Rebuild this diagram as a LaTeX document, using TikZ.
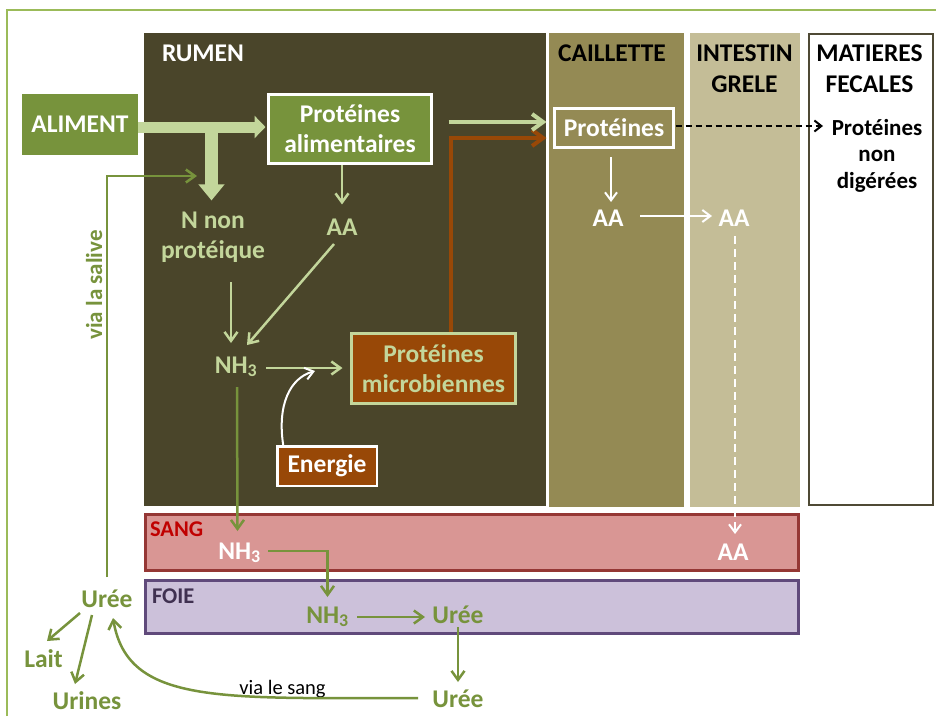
\documentclass[tikz,border=0pt]{standalone}
\usepackage{fontspec}
\setmainfont{Carlito}
\usetikzlibrary{arrows.meta,calc}
\definecolor{rumenc}{HTML}{4A452A}
\definecolor{caillc}{HTML}{948A54}
\definecolor{intc}{HTML}{C4BD97}
\definecolor{lgreen}{HTML}{C3D69B}
\definecolor{dgreen}{HTML}{77933C}
\definecolor{framec}{HTML}{9BBB59}
\definecolor{brownc}{HTML}{984807}
\definecolor{sangfill}{HTML}{D99694}
\definecolor{sangdraw}{HTML}{953735}
\definecolor{sangtext}{HTML}{C00000}
\definecolor{foiefill}{HTML}{CCC1DA}
\definecolor{foiedraw}{HTML}{604A7B}
\definecolor{foietext}{HTML}{403151}
\definecolor{fecdraw}{HTML}{4F4A35}
\begin{document}
\begin{tikzpicture}[x=1pt,y=-1pt,
  every node/.style={inner sep=0pt, outer sep=0pt},
  lbl/.style={font=\fontsize{25.5}{30}\selectfont\bfseries, align=center},
  barb/.style={-{Straight Barb[length=9pt,width=13pt]}},
  thinlg/.style={draw=lgreen, line width=2.5pt, barb},
  thicklg/.style={draw=lgreen, line width=4pt, -{Straight Barb[length=11pt,width=16pt]}},
  dg/.style={draw=dgreen, line width=2.5pt, barb},
  wh/.style={draw=white, line width=2pt, -{Straight Barb[length=8pt,width=12pt]}},
  brownarrow/.style={draw=brownc, line width=4pt, -{Straight Barb[length=11pt,width=16pt]}},
  blackdash/.style={draw=black, line width=2pt, dash pattern=on 6pt off 4pt, -{Straight Barb[length=7pt,width=11pt]}},
  bigarrow/.style={draw=lgreen, line width=11pt, -{Triangle[length=11pt,width=22pt]}},
  bigarrowv/.style={draw=lgreen, line width=13pt, -{Triangle[length=16pt,width=25pt]}},
]
\useasboundingbox (0,0) rectangle (936,716);
\fill[white] (0,0) rectangle (936,716);

% outer frame
\draw[framec, line width=1.5pt] (7,716) -- (7,10) -- (936,10);

% compartments
\fill[rumenc] (144,33) rectangle (546,506);
\fill[caillc] (549,33) rectangle (684,507);
\fill[intc] (690,33) rectangle (800,507);
\draw[fecdraw, line width=2.5pt, fill=white] (809,34) rectangle (933,505);
\draw[sangdraw, fill=sangfill, line width=2.5pt] (145.5,514.5) rectangle (798.5,570.5);
\draw[foiedraw, fill=foiefill, line width=2.5pt] (145.5,580.5) rectangle (798.5,633.5);

% compartment titles (multi-line nodes sit on their last baseline)
\node[lbl, text=white, anchor=base west] (rumen) at (162,61) {RUMEN};
\node[lbl, anchor=base] (caill) at (612,61) {CAILLETTE};
\node[lbl, font=\fontsize{25.5}{31}\selectfont\bfseries, anchor=base] (intest) at (744.5,92) {INTESTIN\\GRELE};
\node[lbl, font=\fontsize{25.5}{31}\selectfont\bfseries, anchor=base] (fec) at (869.5,92) {MATIERES\\FECALES};
\node[font=\fontsize{22.5}{25}\selectfont\bfseries, text=sangtext, anchor=base west] (sang) at (150,536) {SANG};
\node[font=\fontsize{22.5}{25}\selectfont\bfseries, text=foietext, anchor=base west] (foie) at (152,603) {FOIE};

% boxes
\node[lbl, fill=dgreen, text=white, minimum width=116pt, minimum height=61pt] (alim) at (80,124.5) {ALIMENT};
\node[lbl, fill=dgreen, draw=white, line width=3pt, text=white, minimum width=163pt, minimum height=69pt] (pa) at (350,129) {Protéines\\alimentaires};
\node[lbl, fill=brownc, draw=lgreen, line width=3pt, text=lgreen, minimum width=164pt, minimum height=70pt] (pm) at (433.5,368.5) {Protéines\\microbiennes};
\node[lbl, fill=brownc, draw=white, line width=2.5pt, text=white, minimum width=99.5pt, minimum height=39.5pt] (en) at (327,466) {Energie};
\node[lbl, fill=caillc, draw=white, line width=3pt, text=white, minimum width=119pt, minimum height=39pt] (pc) at (614,128) {Protéines};

% free labels
\node[lbl, text=lgreen, anchor=base] (aa1) at (342,235) {AA};
\node[lbl, text=lgreen, anchor=base] (nnp) at (213,258) {N non\\protéique};
\node[lbl, text=lgreen, anchor=base] (nh3a) at (236,373) {NH\textsubscript{3}};
\node[lbl, text=white, anchor=base] (aa2) at (608,226) {AA};
\node[lbl, text=white, anchor=base] (aa3) at (734,226) {AA};
\node[lbl, text=white, anchor=base] (aa4) at (733,560) {AA};
\node[lbl, font=\fontsize{23}{26.5}\selectfont\bfseries, anchor=base] (pnd) at (877,188) {Protéines\\non\\digérées};
\node[lbl, text=white, anchor=base] (nh3b) at (239.5,559) {NH\textsubscript{3}};
\node[lbl, text=dgreen, anchor=base] (nh3c) at (327.5,623) {NH\textsubscript{3}};
\node[lbl, text=dgreen, anchor=base] (u1) at (458,623) {Urée};
\node[lbl, text=dgreen, anchor=base] (u2) at (458,707) {Urée};
\node[lbl, text=dgreen, anchor=base] (u0) at (107,607) {Urée};
\node[lbl, text=dgreen, anchor=base] (lait) at (43.5,667) {Lait};
\node[lbl, text=dgreen, anchor=base] (urines) at (87,709) {Urines};
\node[font=\fontsize{20.5}{23}\selectfont, anchor=base] (vls) at (282.5,694) {via le sang};
\node[font=\fontsize{23}{26}\selectfont\bfseries, text=dgreen, anchor=base, rotate=90] (vsal) at (102,285) {via la salive};

% feed split
\coordinate (tj) at (211.5,127);
\draw[bigarrow] ($(alim.east)+(0,2.5)$) -- ($(alim.east -| pa.west)+(-3,2.5)$);
\draw[bigarrowv] (tj) -- ($(nnp.north -| tj)+(0,-11)$);

% rumen
\draw[thinlg] ($(pa.south -| aa1)+(0,1.5)$) -- ($(aa1.north)+(0,-14)$);
\draw[thinlg] ($(nnp.base)+(18,24)$) -- ($(nh3a.base)+(-5,-30)$);
\draw[thinlg] ($(aa1.base)+(-8,9)$) -- ($(nh3a.base)+(11,-28)$);
\draw[thinlg] ($(nh3a.base)+(30,-5)$) -- ($(pm.west)+(-9,-0.5)$);
\coordinate (ej) at (315,371);
\draw[wh] ($(en.north west)+(6,-1)$) .. controls (277,405) and (290,378) .. (ej);
\draw[brownarrow] ($(pm.north)+(17.5,-1.5)$) |- ($(pc.west)+(-8,10)$);
\draw[thicklg] ($(pa.east)+(17,-7)$) -- ($(pc.west)+(-8,-6)$);

% caillette and intestine
\draw[wh] ($(pc.south)+(-3,9.5)$) -- ($(aa2.base)+(3,-24)$);
\draw[wh] ($(aa2.base)+(32,-10)$) -- ($(aa3.base)+(-22,-10)$);
\draw[wh, dash pattern=on 8pt off 5pt] ($(aa3.base)+(1,10)$) -- ($(aa4.base)+(2,-26)$);
\draw[blackdash] ($(pc.east)+(2,-2)$) -- ($(pnd.base)+(-54,-62)$);

% blood and liver
\draw[dg] ($(nh3a.base)+(1,14)$) -- ($(nh3b.base)+(-2,-28)$);
\draw[dg] ($(nh3b.base)+(28.5,-8)$) -| ($(nh3c.base)+(0,-26)$);
\draw[dg] ($(nh3c.base)+(29.5,-6)$) -- ($(u1.base)+(-33,-6)$);
\draw[dg] ($(u1.base)+(0,4)$) -- ($(u2.base)+(0,-25)$);
\draw[dg] ($(u2.base)+(-40,-9)$) .. controls (220,698) and (128,705) .. ($(u0.base)+(6,11)$);
\draw[dg] ($(u0.base)+(-27,6)$) -- ($(lait.base)+(3.5,-26)$);
\draw[dg] ($(u0.base)+(-15,8)$) -- ($(urines.base)+(-12,-25)$);
\coordinate (sal) at (197,176);
\draw[dg] ($(u0.base)+(0,-30)$) |- (sal);
\end{tikzpicture}
\end{document}
